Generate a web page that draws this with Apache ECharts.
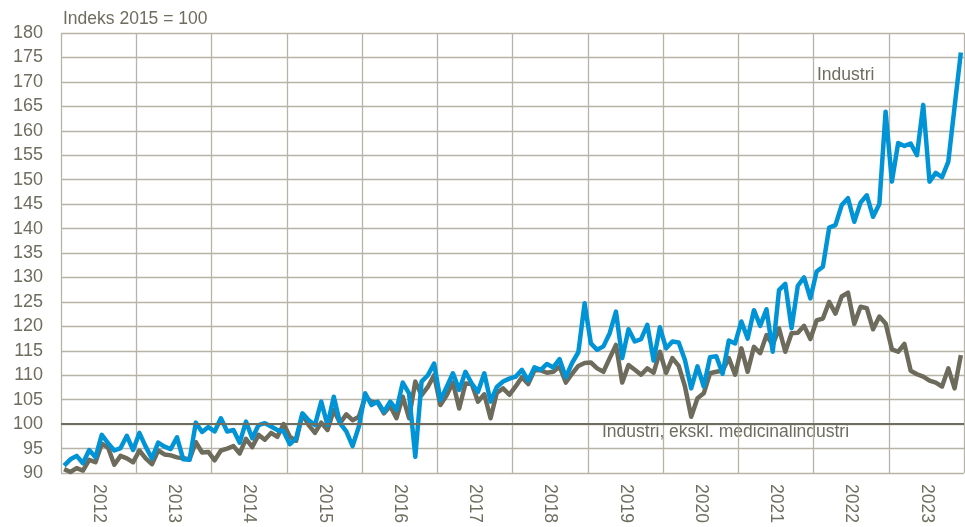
<!DOCTYPE html>
<html>
<head>
<meta charset="utf-8">
<script src="https://cdn.jsdelivr.net/npm/echarts@6/dist/echarts.min.js"></script>
<style>
html,body{margin:0;padding:0;background:#fff;}
#chart{width:965px;height:527px;}
</style>
</head>
<body>
<div id="chart"></div>
<script>
const years = ['2012','2013','2014','2015','2016','2017','2018','2019','2020','2021','2022','2023'];
const months = [];
years.forEach(y => { for (let m = 1; m <= 12; m++) months.push(y + '-' + (m < 10 ? '0' + m : m)); });

const industri = [
  91.5, 92.8, 93.5, 92.0, 94.7, 93.2, 97.8, 96.1, 94.6, 95.1, 97.6, 94.7,
  98.2, 95.4, 93.0, 96.2, 95.4, 94.9, 97.3, 92.8, 92.7, 100.3, 98.4, 99.4,
  98.5, 101.2, 98.5, 98.8, 96.2, 100.5, 97.1, 99.8, 100.2, 99.5, 98.8, 98.5,
  95.9, 97.1, 102.2, 100.8, 99.8, 104.6, 99.8, 105.6, 100.2, 98.5, 95.5, 99.5,
  106.3, 103.9, 104.6, 102.5, 104.6, 102.9, 108.5, 106.3, 93.3, 108.7, 110.0, 112.4,
  104.9, 107.6, 110.4, 107.0, 110.7, 108.3, 106.6, 110.4, 104.6, 107.6, 108.7, 109.3,
  109.7, 111.1, 108.9, 111.6, 111.1, 112.3, 111.6, 113.3, 109.6, 112.5, 114.7, 124.7,
  116.5, 115.2, 115.9, 118.6, 123.0, 113.5, 119.4, 116.9, 117.4, 120.3, 113.0, 119.8,
  115.5, 116.9, 116.7, 113.1, 107.3, 111.8, 107.7, 113.7, 113.9, 110.3, 117.1, 116.5,
  121.0, 117.5, 123.3, 120.1, 123.5, 114.8, 127.4, 128.7, 119.6, 128.3, 130.0, 125.7,
  131.2, 132.2, 140.2, 140.7, 144.8, 146.2, 141.4, 145.3, 146.8, 142.4, 145.0, 163.9,
  149.6, 157.5, 156.9, 157.4, 155.0, 165.3, 149.6, 151.4, 150.5, 153.7, 164.9, 176.0
];

const eksklMedicinal = [
  90.8, 90.2, 91.0, 90.5, 92.7, 92.2, 96.0, 95.2, 91.7, 93.5, 93.0, 92.2,
  94.6, 93.0, 91.8, 94.6, 93.8, 93.6, 93.2, 93.0, 92.8, 96.3, 94.2, 94.3,
  92.6, 94.6, 95.0, 95.5, 94.0, 97.0, 95.3, 97.8, 96.8, 98.2, 97.4, 100.0,
  97.4, 96.6, 102.0, 99.8, 98.2, 100.3, 98.8, 102.9, 100.2, 102.0, 100.8, 101.5,
  105.5, 104.6, 104.4, 102.2, 103.7, 101.2, 105.6, 101.2, 108.7, 105.9, 107.6, 110.0,
  103.9, 105.9, 108.5, 103.2, 108.3, 108.2, 104.6, 106.1, 101.2, 106.4, 107.3, 106.0,
  107.7, 109.6, 108.2, 111.0, 111.0, 110.5, 110.7, 111.8, 108.5, 110.3, 111.9, 112.5,
  112.6, 111.4, 110.7, 113.5, 116.2, 108.5, 112.1, 111.1, 110.1, 111.4, 110.5, 114.8,
  110.5, 113.5, 111.9, 107.7, 101.5, 105.3, 106.3, 110.4, 110.7, 110.9, 113.5, 110.1,
  115.5, 110.7, 115.8, 114.5, 118.2, 116.2, 119.6, 114.8, 118.6, 118.7, 120.1, 117.4,
  121.2, 121.6, 125.0, 122.6, 126.1, 126.9, 120.5, 124.0, 123.7, 119.4, 122.0, 120.6,
  115.3, 114.8, 116.4, 110.9, 110.2, 109.7, 108.9, 108.5, 107.7, 111.4, 107.3, 114.1
];

const yTicks = { min: 90, max: 180, interval: 5 };
const baseLine = 100;
const labels = {
  title: 'Indeks 2015 = 100',
  industri: 'Industri',
  ekskl: 'Industri, ekskl. medicinalindustri'
};

const FONT = '"Liberation Sans", Arial, sans-serif';
const TXT = '#6f6d5f';
const GRID = '#b6b4a7';

const chart = echarts.init(document.getElementById('chart'), null, { renderer: 'canvas' });
chart.setOption({
  animation: false,
  backgroundColor: '#ffffff',
  grid: { left: 61, right: 1, top: 33, bottom: 54, containLabel: false, outerBoundsMode: 'none' },
  xAxis: [
    {
      type: 'category', data: months, boundaryGap: true,
      axisLine: { show: false }, axisTick: { show: false },
      axisLabel: { show: false }, splitLine: { show: false }
    },
    {
      type: 'category', data: years, boundaryGap: true, position: 'bottom',
      axisLine: { show: false }, axisTick: { show: false },
      axisLabel: { rotate: -90, margin: 11, color: TXT, fontFamily: FONT, fontSize: 17.5 },
      splitLine: { show: true, lineStyle: { color: GRID, width: 1.3 } }
    }
  ],
  yAxis: {
    type: 'value', min: yTicks.min, max: yTicks.max, interval: yTicks.interval,
    axisLine: { show: false }, axisTick: { show: false },
    axisLabel: { margin: 18, color: TXT, fontFamily: FONT, fontSize: 18 },
    splitLine: { show: true, lineStyle: { color: GRID, width: 1.3 } }
  },
  series: [
    {
      name: labels.ekskl, type: 'line', data: eksklMedicinal, xAxisIndex: 0,
      symbol: 'none', lineStyle: { color: '#6d6b5b', width: 4.5, join: 'round' },
      z: 3,
      markLine: {
        silent: true, symbol: 'none', label: { show: false },
        lineStyle: { color: '#6f6d5f', width: 2, type: 'solid' },
        data: [{ yAxis: baseLine }]
      }
    },
    {
      name: labels.industri, type: 'line', data: industri, xAxisIndex: 0,
      symbol: 'none', lineStyle: { color: '#0094d6', width: 4.5, join: 'round' },
      z: 4
    }
  ],
  graphic: [
    { type: 'text', x: 63, y: 19, style: { text: labels.title, fill: TXT, font: '17.5px ' + FONT, verticalAlign: 'middle' } },
    { type: 'text', x: 817, y: 75, style: { text: labels.industri, fill: TXT, font: '17.5px ' + FONT, verticalAlign: 'middle' } },
    { type: 'text', x: 602, y: 432, style: { text: labels.ekskl, fill: TXT, font: '17.5px ' + FONT, verticalAlign: 'middle' } }
  ]
});
</script>
</body>
</html>
